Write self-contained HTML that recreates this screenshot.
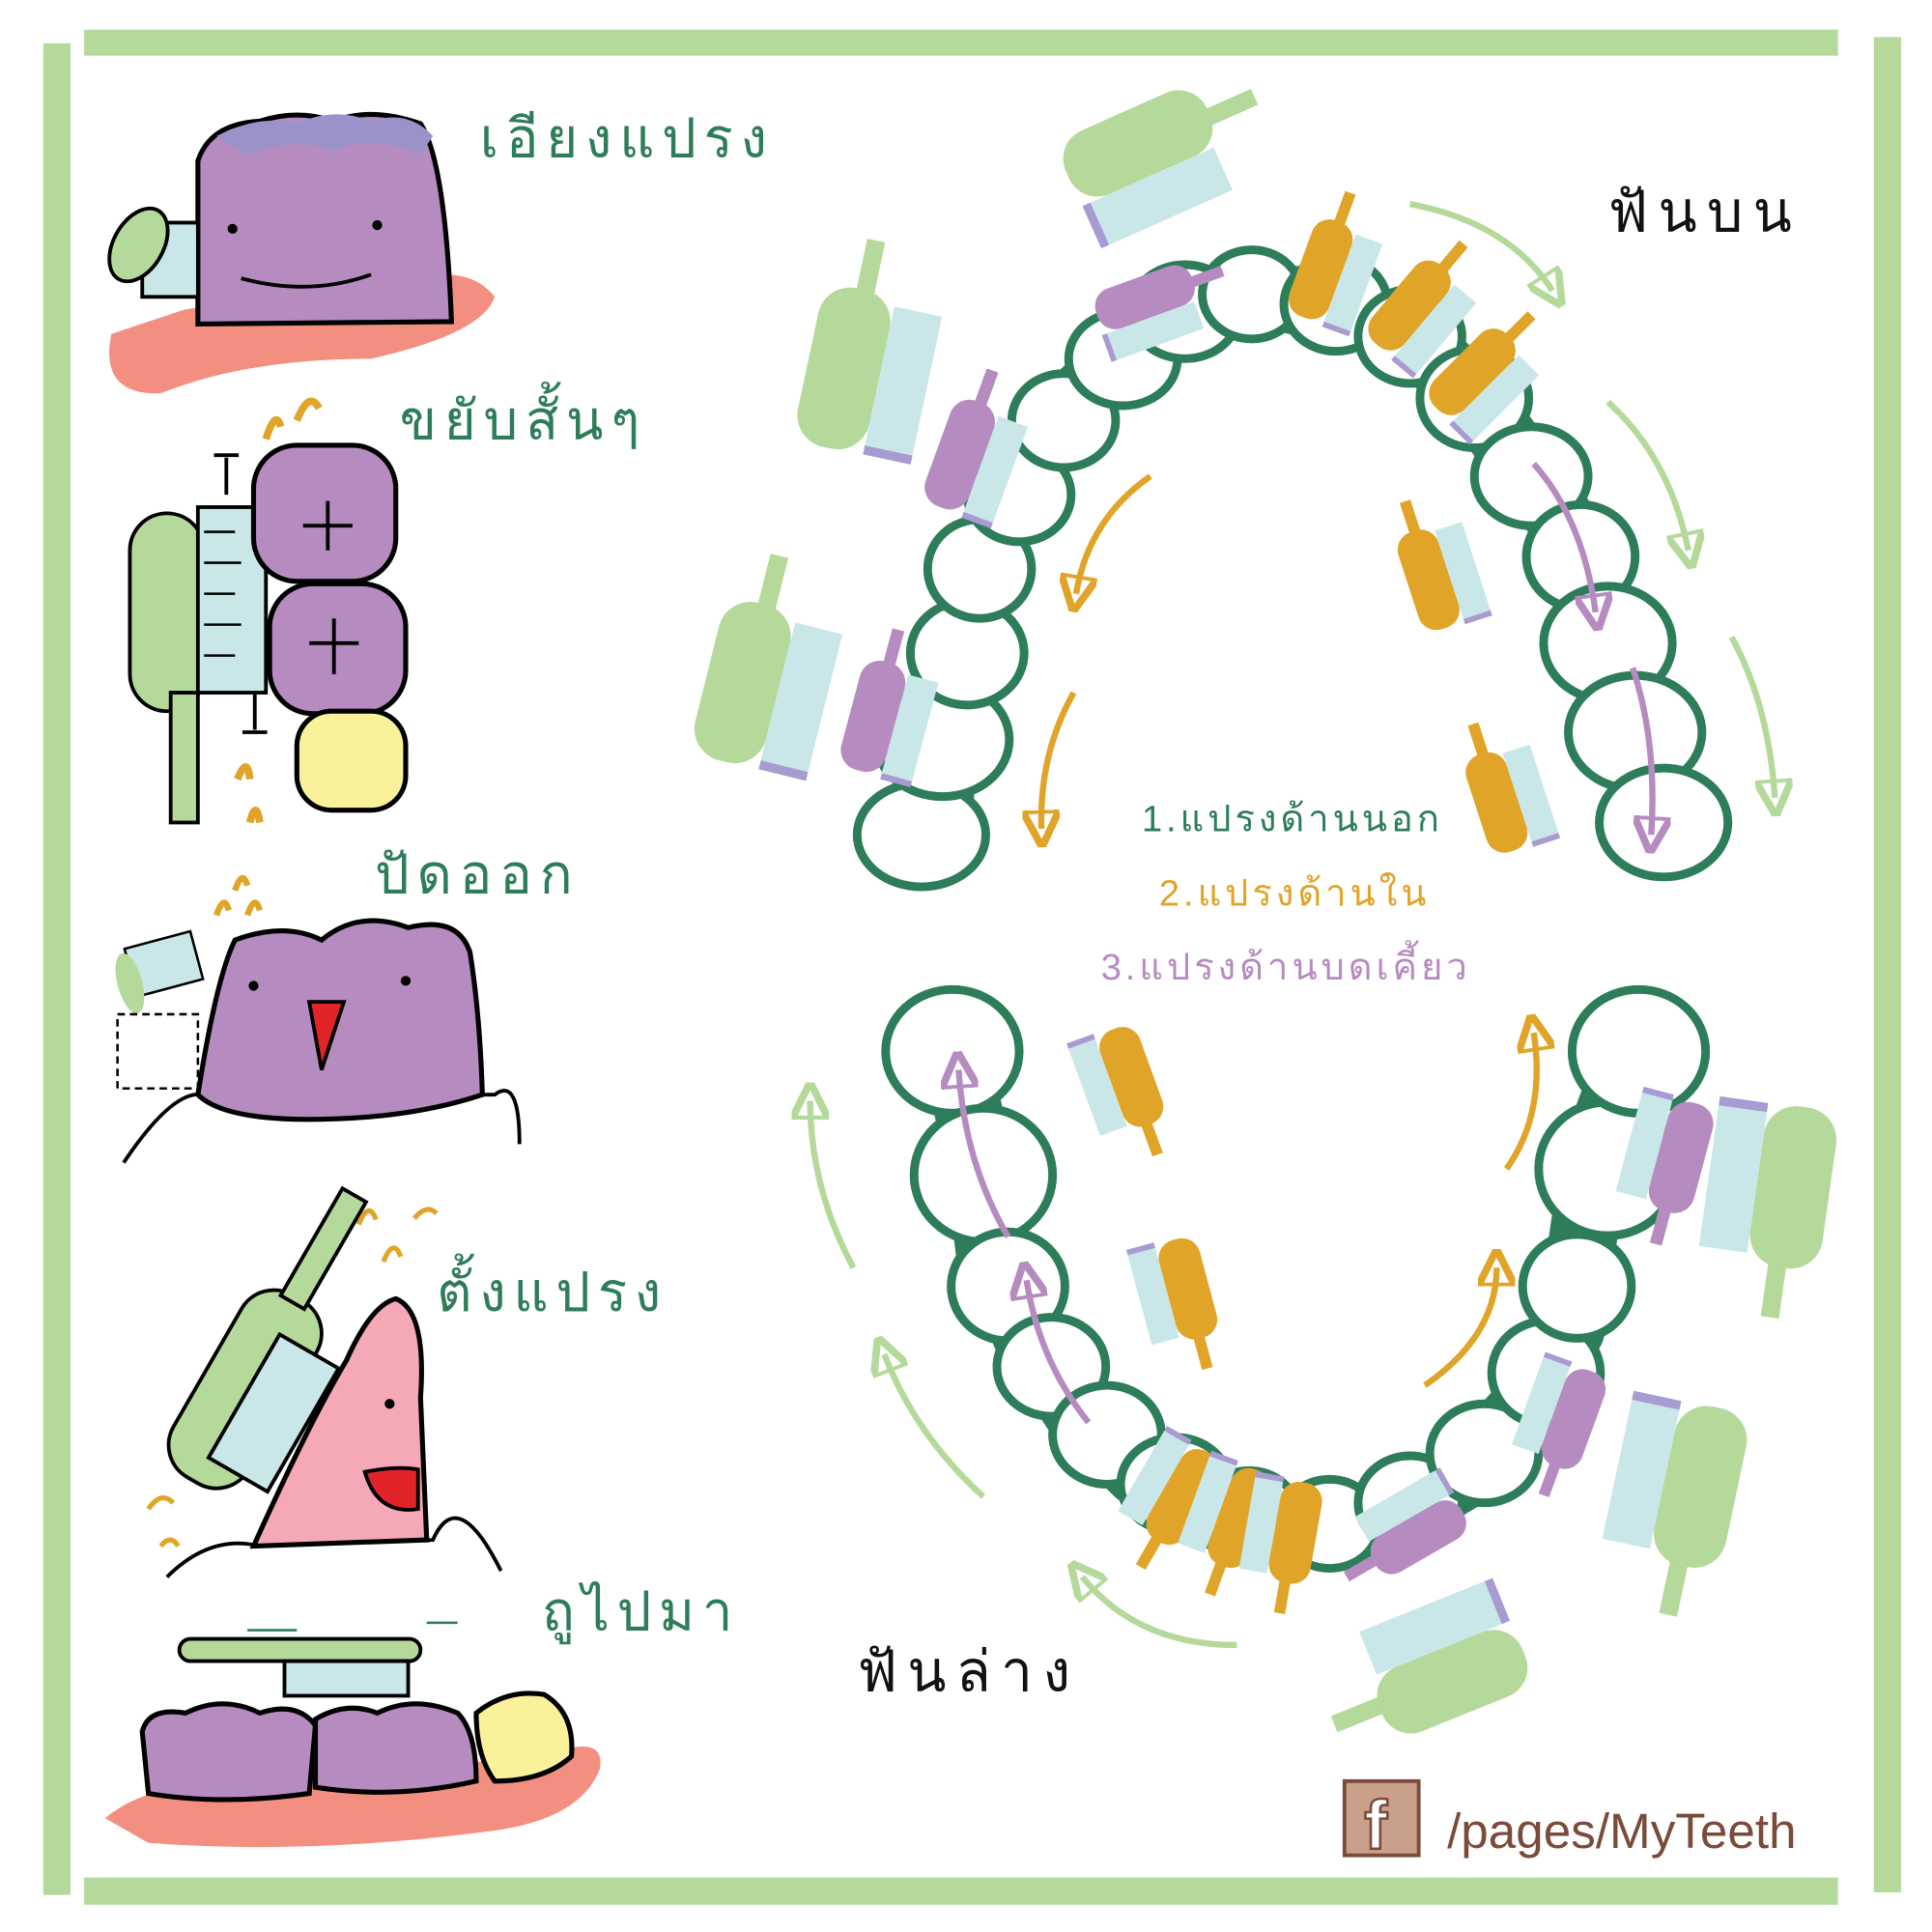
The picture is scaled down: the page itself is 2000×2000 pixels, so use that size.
<!DOCTYPE html>
<html><head><meta charset="utf-8">
<style>
html,body{margin:0;padding:0;background:#fff;}
svg{display:block;}
text{font-family:"Liberation Sans","Noto Sans CJK SC",sans-serif;}
</style></head>
<body>
<svg width="2000" height="2000" viewBox="0 0 1562 1562" xmlns="http://www.w3.org/2000/svg">
<defs>
<marker id="ag" markerWidth="6" markerHeight="6" refX="3" refY="3" orient="auto"><path d="M0,0 L6,3 L0,6 Z" fill="none" stroke="#b5d99a" stroke-width="1.2"/></marker>
<marker id="ao" markerWidth="6" markerHeight="6" refX="3" refY="3" orient="auto"><path d="M0,0 L6,3 L0,6 Z" fill="none" stroke="#e0a428" stroke-width="1.2"/></marker>
<marker id="ap" markerWidth="6" markerHeight="6" refX="3" refY="3" orient="auto"><path d="M0,0 L6,3 L0,6 Z" fill="none" stroke="#b68bc0" stroke-width="1.2"/></marker>
<g id="bG"><rect x="-40" y="-125" width="18" height="60" fill="#b5d99a"/><rect x="-72" y="-75" width="72" height="160" rx="32" fill="#b5d99a"/><rect x="0" y="-65" width="48" height="140" fill="#c9e7e8"/><rect x="0" y="75" width="48" height="9" fill="#a89bd2"/></g>
<g id="bO"><rect x="-40" y="-125" width="18" height="60" fill="#e0a428"/><rect x="-68" y="-75" width="68" height="165" rx="30" fill="#e0a428"/><rect x="0" y="-65" width="46" height="150" fill="#c9e7e8"/><rect x="0" y="85" width="46" height="9" fill="#a89bd2"/></g>
<g id="bP"><rect x="-40" y="-125" width="18" height="60" fill="#b68bc0"/><rect x="-68" y="-75" width="68" height="165" rx="30" fill="#b68bc0"/><rect x="0" y="-65" width="46" height="150" fill="#c9e7e8"/><rect x="0" y="85" width="46" height="9" fill="#a89bd2"/></g>
</defs>

<!-- frame -->
<rect x="35" y="35" width="22" height="1497" fill="#b5d99a"/>
<rect x="68" y="24" width="1418" height="21" fill="#b5d99a"/>
<rect x="1515" y="30" width="22" height="1500" fill="#b5d99a"/>
<rect x="68" y="1518" width="1418" height="22" fill="#b5d99a"/>

<!-- Left panel 1 -->
<path d="M90,270 Q80,320 130,318 Q200,290 300,290 Q390,270 400,240 Q380,215 340,225 L150,250 Z" fill="#f38f80"/>
<path d="M160,130 Q170,100 210,98 Q240,88 270,98 Q300,86 340,100 Q360,130 365,260 L160,262 Z" fill="#b68bc0" stroke="#000" stroke-width="4"/>
<path d="M175,110 Q210,92 240,100 Q270,86 300,98 Q330,88 350,110 L340,125 Q300,108 270,122 Q240,110 200,125 Z" fill="#9a92c8"/>
<circle cx="188" cy="185" r="4"/><circle cx="305" cy="182" r="4"/>
<path d="M195,225 Q250,240 300,222" fill="none" stroke="#000" stroke-width="3"/>
<rect x="115" y="180" width="45" height="60" fill="#c9e7e8" stroke="#000" stroke-width="3"/>
<ellipse cx="112" cy="198" rx="20" ry="32" fill="#b5d99a" stroke="#000" stroke-width="3" transform="rotate(30 112 198)"/>
<text x="388" y="127" font-size="44" fill="#2e7d5a" letter-spacing="6">เอียงแปรง</text>

<!-- panel 2 -->
<rect x="105" y="415" width="60" height="160" rx="30" fill="#b5d99a" stroke="#000" stroke-width="3"/>
<rect x="138" y="560" width="22" height="105" fill="#b5d99a" stroke="#000" stroke-width="3"/>
<rect x="160" y="410" width="55" height="150" fill="#c9e7e8" stroke="#000" stroke-width="3"/>
<path d="M165,430 H190 M165,455 H195 M165,480 H190 M165,505 H195 M165,530 H190" stroke="#000" stroke-width="2"/>
<rect x="205" y="360" width="115" height="110" rx="35" fill="#b68bc0" stroke="#000" stroke-width="4"/>
<rect x="218" y="472" width="110" height="105" rx="35" fill="#b68bc0" stroke="#000" stroke-width="4"/>
<rect x="240" y="575" width="88" height="80" rx="28" fill="#f9f29a" stroke="#000" stroke-width="4"/>
<path d="M245,425 H285 M265,405 V445 M250,520 H290 M270,500 V545" stroke="#000" stroke-width="3"/>
<path d="M183,400 V370 M173,368 H193 M206,560 V590 M196,592 H216" stroke="#000" stroke-width="3"/>
<path d="M215,355 q8,-25 12,-10 M240,340 q10,-25 18,-10 M192,630 q8,-20 10,0 M202,665 q5,-20 8,0" stroke="#e0a428" stroke-width="6" fill="none"/>
<text x="323" y="355" font-size="44" fill="#2e7d5a" letter-spacing="6">ขยับสั้นๆ</text>

<!-- panel 3 -->
<path d="M100,940 Q140,880 165,885 L400,885 Q420,870 420,925" fill="none" stroke="#000" stroke-width="3"/>
<path d="M160,885 Q175,790 190,760 Q230,745 260,760 Q290,735 330,750 Q370,740 380,770 Q388,820 390,885 Q330,905 250,905 Q180,905 160,885 Z" fill="#b68bc0" stroke="#000" stroke-width="4"/>
<circle cx="205" cy="797" r="4"/><circle cx="328" cy="793" r="4"/>
<path d="M250,810 L278,810 L260,865 Z" fill="#e0242a" stroke="#000" stroke-width="3"/>
<rect x="105" y="760" width="55" height="40" fill="#c9e7e8" stroke="#000" stroke-width="2" transform="rotate(-15 130 780)"/>
<ellipse cx="105" cy="795" rx="10" ry="25" fill="#b5d99a" transform="rotate(-15 105 795)"/>
<rect x="95" y="820" width="65" height="60" fill="none" stroke="#000" stroke-width="2" stroke-dasharray="6,4"/>
<path d="M175,740 q6,-18 10,-4 M190,720 q6,-18 10,-4 M200,740 q6,-18 10,-4" stroke="#e0a428" stroke-width="5" fill="none"/>
<text x="303" y="722" font-size="44" fill="#2e7d5a" letter-spacing="6">ปัดออก</text>

<!-- panel 4 -->
<path d="M135,1275 Q170,1240 210,1250 L350,1245 Q370,1200 405,1270" fill="none" stroke="#000" stroke-width="3"/>
<path d="M205,1250 Q250,1150 280,1100 Q300,1055 320,1050 Q345,1060 340,1130 L345,1245 Z" fill="#f5a8b5" stroke="#000" stroke-width="4"/>
<circle cx="315" cy="1135" r="4"/>
<path d="M295,1190 Q320,1185 338,1188 L338,1220 Q305,1225 295,1190 Z" fill="#e0242a" stroke="#000" stroke-width="3"/>
<g transform="rotate(30 200 1130)"><rect x="160" y="1040" width="70" height="170" rx="30" fill="#b5d99a" stroke="#000" stroke-width="3"/><rect x="182" y="945" width="22" height="100" fill="#b5d99a" stroke="#000" stroke-width="3"/></g>
<rect x="195" y="1085" width="55" height="115" fill="#c9e7e8" stroke="#000" stroke-width="3" transform="rotate(30 222 1140)"/>
<path d="M290,990 q8,-20 14,-4 M310,1020 q8,-20 14,-4 M335,985 q10,-12 18,-4 M120,1220 q10,-15 20,-5 M130,1250 q8,-10 14,0" stroke="#e0a428" stroke-width="4" fill="none"/>
<text x="353" y="1060" font-size="44" fill="#2e7d5a" letter-spacing="6">ตั้งแปรง</text>

<!-- panel 5 -->
<path d="M85,1470 Q120,1440 200,1440 L440,1420 Q490,1400 485,1430 Q470,1470 400,1480 Q250,1500 120,1490 Z" fill="#f38f80"/>
<path d="M115,1400 Q120,1380 150,1385 Q180,1370 210,1385 Q240,1375 255,1395 L250,1450 Q180,1460 120,1450 Z" fill="#b68bc0" stroke="#000" stroke-width="4"/>
<path d="M255,1390 Q280,1375 305,1385 Q335,1370 370,1385 Q385,1400 385,1440 Q320,1455 255,1445 Z" fill="#b68bc0" stroke="#000" stroke-width="4"/>
<path d="M385,1385 Q410,1365 440,1370 Q465,1385 462,1420 Q440,1440 400,1440 Q385,1420 385,1385 Z" fill="#f9f29a" stroke="#000" stroke-width="4"/>
<rect x="145" y="1325" width="195" height="18" rx="9" fill="#b5d99a" stroke="#000" stroke-width="3"/>
<rect x="230" y="1343" width="100" height="28" fill="#c9e7e8" stroke="#000" stroke-width="3"/>
<path d="M240,1318 H200 M345,1312 H370" stroke="#2e7d5a" stroke-width="2"/>
<text x="438" y="1318" font-size="44" fill="#2e7d5a" letter-spacing="6">ถูไปมา</text>

<!-- Upper arch -->
<path d="M760,690 L760,610 L780,540 L790,460 L820,400 L855,340 L905,290 L955,250 L1010,235 L1080,250 L1140,270 L1190,320 L1235,380 L1275,440 L1290,510 L1310,575 L1340,650" fill="none" stroke="#2e7d5a" stroke-width="55" stroke-linejoin="round"/>
<g fill="#fff" stroke="#2e7d5a" stroke-width="7">
<ellipse cx="745" cy="675" rx="52" ry="42"/><ellipse cx="762" cy="598" rx="54" ry="46"/><ellipse cx="782" cy="528" rx="46" ry="42"/>
<ellipse cx="792" cy="460" rx="42" ry="40"/><ellipse cx="824" cy="400" rx="42" ry="38"/><ellipse cx="860" cy="340" rx="42" ry="38"/>
<ellipse cx="908" cy="290" rx="44" ry="38"/><ellipse cx="958" cy="252" rx="44" ry="38"/><ellipse cx="1012" cy="238" rx="40" ry="36"/>
<ellipse cx="1080" cy="246" rx="42" ry="38"/><ellipse cx="1140" cy="272" rx="42" ry="38"/><ellipse cx="1192" cy="322" rx="44" ry="40"/>
<ellipse cx="1238" cy="385" rx="46" ry="40"/><ellipse cx="1278" cy="450" rx="44" ry="42"/><ellipse cx="1300" cy="520" rx="52" ry="46"/>
<ellipse cx="1322" cy="592" rx="54" ry="46"/><ellipse cx="1345" cy="665" rx="52" ry="44"/>
</g>
<!-- Lower arch -->
<path d="M770,840 L790,930 L800,1010 L830,1080 L870,1140 L920,1190 L980,1225 L1050,1240 L1120,1230 L1180,1195 L1230,1140 L1270,1075 L1280,1000 L1290,930 L1320,850" fill="none" stroke="#2e7d5a" stroke-width="55" stroke-linejoin="round"/>
<g fill="#fff" stroke="#2e7d5a" stroke-width="7">
<ellipse cx="770" cy="850" rx="54" ry="50"/><ellipse cx="795" cy="950" rx="56" ry="54"/><ellipse cx="815" cy="1040" rx="46" ry="44"/>
<ellipse cx="850" cy="1105" rx="44" ry="40"/><ellipse cx="895" cy="1160" rx="44" ry="40"/><ellipse cx="950" cy="1200" rx="44" ry="38"/>
<ellipse cx="1010" cy="1225" rx="40" ry="36"/><ellipse cx="1075" cy="1232" rx="40" ry="36"/><ellipse cx="1140" cy="1215" rx="42" ry="38"/>
<ellipse cx="1200" cy="1175" rx="44" ry="40"/><ellipse cx="1250" cy="1110" rx="44" ry="42"/><ellipse cx="1275" cy="1040" rx="44" ry="42"/>
<ellipse cx="1300" cy="945" rx="56" ry="54"/><ellipse cx="1325" cy="850" rx="54" ry="50"/>
</g>

<!-- Big green brushes -->
<g transform="translate(935,140) rotate(66) scale(0.78)"><use href="#bG"/></g>
<g transform="translate(712,300) rotate(12) scale(0.82)"><use href="#bG"/></g>
<g transform="translate(630,555) rotate(14) scale(0.82)"><use href="#bG"/></g>
<g transform="translate(1420,960) rotate(188) scale(0.82)"><use href="#bG"/></g>
<g transform="translate(1345,1200) rotate(192) scale(0.82)"><use href="#bG"/></g>
<g transform="translate(1160,1335) rotate(248) scale(0.78)"><use href="#bG"/></g>

<!-- orange brushes -->
<g transform="translate(1085,220) rotate(20) scale(0.5)"><use href="#bO"/></g>
<g transform="translate(1155,255) rotate(40) scale(0.5)"><use href="#bO"/></g>
<g transform="translate(1205,310) rotate(45) scale(0.5)"><use href="#bO"/></g>
<g transform="translate(1170,460) rotate(-18) scale(0.5)"><use href="#bO"/></g>
<g transform="translate(1225,640) rotate(-18) scale(0.5)"><use href="#bO"/></g>
<g transform="translate(900,880) rotate(160) scale(0.5)"><use href="#bO"/></g>
<g transform="translate(945,1050) rotate(165) scale(0.5)"><use href="#bO"/></g>
<g transform="translate(940,1205) rotate(210) scale(0.5)"><use href="#bO"/></g>
<g transform="translate(985,1225) rotate(200) scale(0.5)"><use href="#bO"/></g>
<g transform="translate(1030,1240) rotate(190) scale(0.5)"><use href="#bO"/></g>

<!-- purple brushes -->
<g transform="translate(935,255) rotate(70) scale(0.5)"><use href="#bP"/></g>
<g transform="translate(795,370) rotate(20) scale(0.55)"><use href="#bP"/></g>
<g transform="translate(725,580) rotate(15) scale(0.55)"><use href="#bP"/></g>
<g transform="translate(1340,935) rotate(195) scale(0.55)"><use href="#bP"/></g>
<g transform="translate(1255,1145) rotate(200) scale(0.5)"><use href="#bP"/></g>
<g transform="translate(1135,1230) rotate(240) scale(0.5)"><use href="#bP"/></g>

<!-- light green arrows -->
<path d="M1140,165 Q1220,180 1255,235" fill="none" stroke="#b5d99a" stroke-width="5" marker-end="url(#ag)"/>
<path d="M1300,325 Q1350,370 1365,445" fill="none" stroke="#b5d99a" stroke-width="5" marker-end="url(#ag)"/>
<path d="M1400,515 Q1430,570 1435,645" fill="none" stroke="#b5d99a" stroke-width="5" marker-end="url(#ag)"/>
<path d="M690,1025 Q655,960 655,890" fill="none" stroke="#b5d99a" stroke-width="5" marker-end="url(#ag)"/>
<path d="M795,1210 Q740,1160 715,1095" fill="none" stroke="#b5d99a" stroke-width="5" marker-end="url(#ag)"/>
<path d="M1000,1330 Q920,1330 875,1275" fill="none" stroke="#b5d99a" stroke-width="5" marker-end="url(#ag)"/>
<!-- orange arrows -->
<path d="M930,385 Q880,420 870,480" fill="none" stroke="#e0a428" stroke-width="5" marker-end="url(#ao)"/>
<path d="M868,560 Q840,610 842,670" fill="none" stroke="#e0a428" stroke-width="5" marker-end="url(#ao)"/>
<path d="M1218,945 Q1250,900 1240,835" fill="none" stroke="#e0a428" stroke-width="5" marker-end="url(#ao)"/>
<path d="M1152,1120 Q1210,1080 1210,1025" fill="none" stroke="#e0a428" stroke-width="5" marker-end="url(#ao)"/>
<!-- purple arrows -->
<path d="M1240,375 Q1280,420 1290,495" fill="none" stroke="#b68bc0" stroke-width="5" marker-end="url(#ap)"/>
<path d="M1320,540 Q1340,600 1335,675" fill="none" stroke="#b68bc0" stroke-width="5" marker-end="url(#ap)"/>
<path d="M815,1000 Q780,940 775,865" fill="none" stroke="#b68bc0" stroke-width="5" marker-end="url(#ap)"/>
<path d="M880,1150 Q840,1100 830,1035" fill="none" stroke="#b68bc0" stroke-width="5" marker-end="url(#ap)"/>

<!-- labels -->
<text x="1300" y="187" font-size="46" fill="#111" letter-spacing="8">ฟันบน</text>
<text x="693" y="1367" font-size="46" fill="#111" letter-spacing="8">ฟันล่าง</text>
<text x="923" y="672" font-size="30" fill="#2e7d5a" letter-spacing="3">1.แปรงด้านนอก</text>
<text x="937" y="732" font-size="30" fill="#e0a428" letter-spacing="3">2.แปรงด้านใน</text>
<text x="890" y="792" font-size="30" fill="#b68bc0" letter-spacing="3">3.แปรงด้านบดเคี้ยว</text>

<!-- footer -->
<rect x="1087" y="1440" width="60" height="60" fill="#c9a08a" stroke="#7a4a3a" stroke-width="3"/>
<text x="1103" y="1495" font-size="56" font-weight="bold" fill="#fff" stroke="#7a4a3a" stroke-width="2">f</text>
<text x="1170" y="1494" font-size="40" fill="#7a4a3a">/pages/MyTeeth</text>
</svg>
</body></html>
